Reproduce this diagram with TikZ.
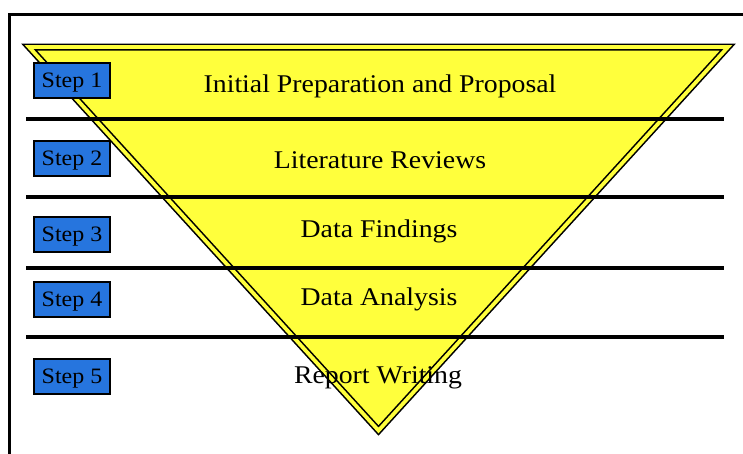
\documentclass[tikz,border=0pt]{standalone}
\usepackage{fontspec}
\setmainfont{Liberation Serif}
\newfontfamily\wideserif[FakeStretch=1.09]{Liberation Serif}
\definecolor{stepblue}{RGB}{38,117,222}
\definecolor{funnelyellow}{RGB}{255,255,60}
\begin{document}
\begin{tikzpicture}[x=1pt,y=-1pt,
  stepbox/.style={draw=black,line width=2pt,fill=stepblue,minimum width=76pt,minimum height=35pt,inner sep=0pt,text depth=0pt,font=\wideserif\fontsize{22}{22}\selectfont},
  phase/.style={anchor=base,inner sep=0pt,font=\wideserif\fontsize{25.5}{25.5}\selectfont},
  divider/.style={line width=3.2pt,black}]
\useasboundingbox (0,0) rectangle (743,453);
\fill[white] (0,0) rectangle (743,453);
% frame
\draw[line width=3pt] (9,460) -- (9,14) -- (750,14);
% funnel
\draw[fill=funnelyellow,draw=black,line width=1.6pt,double=funnelyellow,double distance=3.8pt,miter limit=20]
  (29,47) -- (728,47) -- (378.5,430.5) -- cycle;
% dividers
\coordinate (l1a) at (26,119); \coordinate (l1b) at (724,119);
\coordinate (l2a) at (26,197); \coordinate (l2b) at (724,197);
\coordinate (l3a) at (26,268); \coordinate (l3b) at (724,268);
\coordinate (l4a) at (26,337); \coordinate (l4b) at (724,337);
\draw[divider] (l1a) -- (l1b);
\draw[divider] (l2a) -- (l2b);
\draw[divider] (l3a) -- (l3b);
\draw[divider] (l4a) -- (l4b);
% steps
\node[stepbox] (s1) at (72,80.5) {Step 1};
\node[stepbox] (s2) at (72,158) {Step 2};
\node[stepbox] (s3) at (72,234) {Step 3};
\node[stepbox] (s4) at (72,299) {Step 4};
\node[stepbox] (s5) at (72,376) {Step 5};
% phases
\node[phase] (p1) at (380,92) {Initial Preparation and Proposal};
\node[phase] (p2) at (380,168) {Literature Reviews};
\node[phase] (p3) at (379,237) {Data Findings};
\node[phase] (p4) at (379,305) {Data Analysis};
\node[phase] (p5) at (378,383) {Report Writing};
\end{tikzpicture}
\end{document}
